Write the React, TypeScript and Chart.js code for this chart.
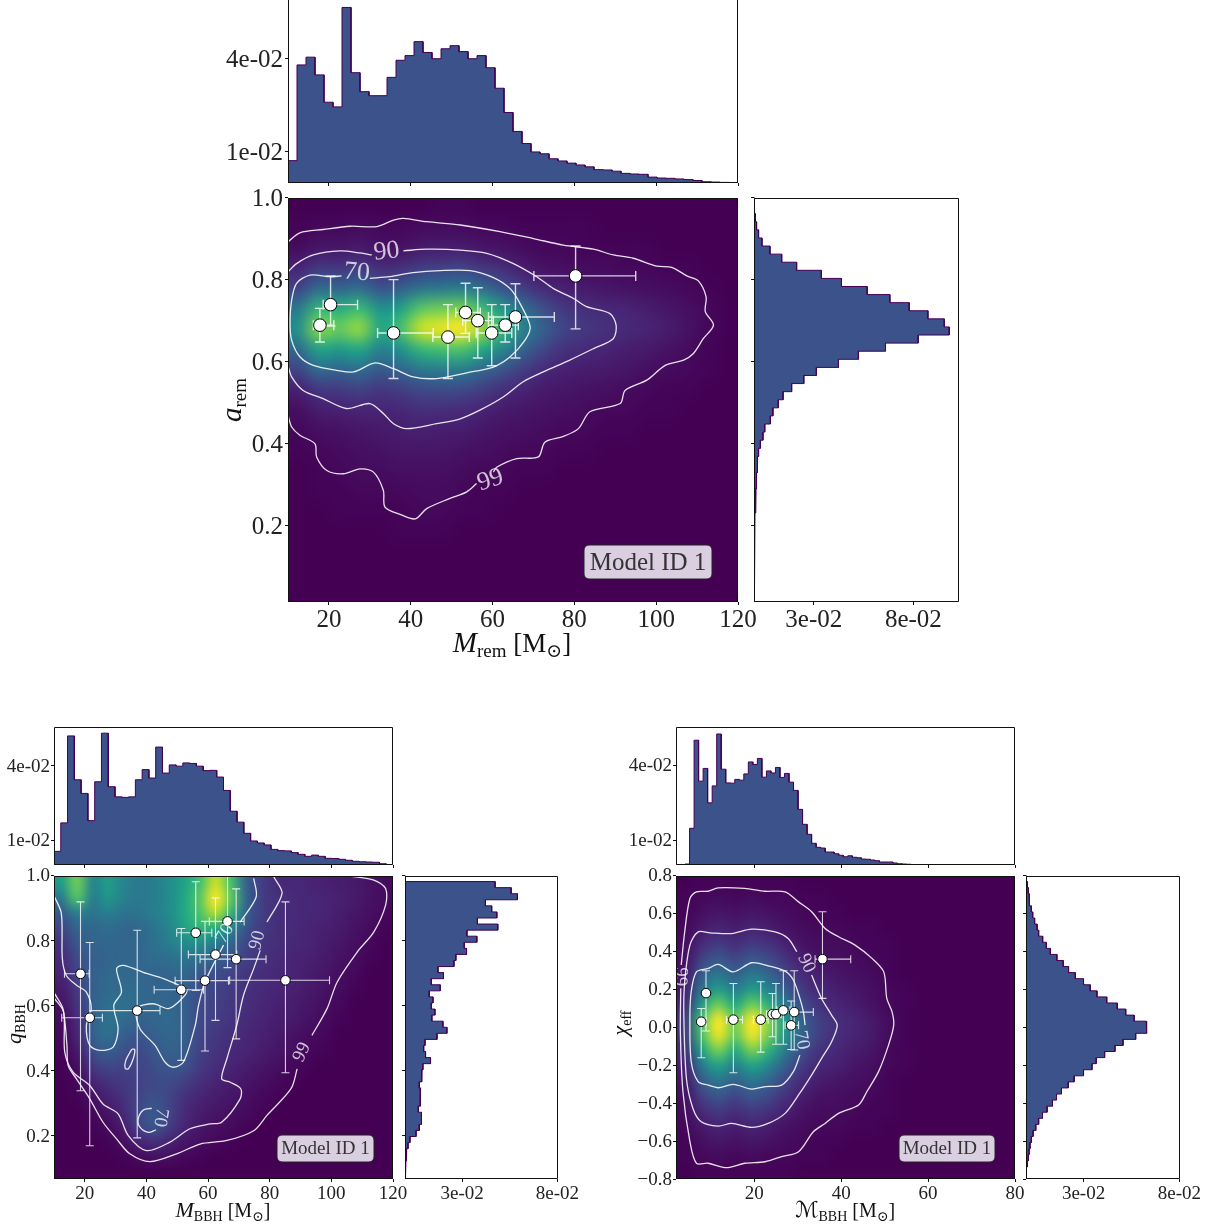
import React, { useEffect, useRef } from "react";
import { Chart, registerables } from "chart.js";

Chart.register(...registerables);

// ---------- histogram values ----------
const aTopHist = [.0072,.0380,.0405,.0348,.0260,.0245,.0565,.0355,.0294,.0281,.0281,.0340,.0395,.0410,.0455,.0420,.0400,.0432,.0442,.0423,.0400,.0410,.0371,.0305,.0227,.0166,.0127,.0100,.0094,.0078,.0071,.0064,.0058,.0052,.0043,.0042,.0038,.0031,.0029,.0028,.0019,.0016,.0015,.0013,.0011,.0008,.0004,.0003,.0002,.0001];
const aSideHist = [.0001,.0003,.0007,.0013,.0023,.0040,.0080,.0139,.0214,.0338,.0439,.0568,.0682,.0779,.0873,.0955,.0980,.0824,.0660,.0524,.0424,.0313,.0250,.0189,.0146,.0122,.0095,.0082,.0054,.0045,.0032,.0023,.0018,.0017,.0013,.0012,.0010,.0008,.0007,.0005,.0005,.0003,.0003,.0002,.0002,.0001,.0001,.0001,.0001,.0001];
const bTopHist = [.0055,.0170,.0521,.0344,.0289,.0179,.0336,.0532,.0316,.0275,.0273,.0275,.0344,.0385,.0351,.0476,.0371,.0404,.0399,.0412,.0410,.0399,.0381,.0382,.0355,.0301,.0217,.0173,.0128,.0097,.0089,.0081,.0063,.0058,.0057,.0050,.0043,.0035,.0040,.0035,.0027,.0026,.0023,.0019,.0015,.0013,.0012,.0011,.0005,0];
const bSideHist = [0,.0473,.0557,.0590,.0422,.0455,.0482,.0380,.0487,.0325,.0377,.0311,.0323,.0267,.0257,.0173,.0202,.0138,.0185,.0127,.0147,.0138,.0157,.0141,.0199,.0220,.0168,.0105,.0098,.0108,.0134,.0094,.0089,.0087,.0075,.0082,.0080,.0079,.0070,.0086,.0087,.0075,.0058,.0026,.0016,.0009,.0007,.0005,.0003,.0002];
const cTopHist = [0,0,.0004,.0147,.0500,.0336,.0387,.0249,.0317,.0525,.0384,.0329,.0328,.0343,.0340,.0365,.0413,.0403,.0427,.0352,.0377,.0369,.0391,.0351,.0367,.0332,.0299,.0223,.0163,.0123,.0087,.0071,.0068,.0052,.0052,.0045,.0039,.0033,.0037,.0031,.0029,.0024,.0023,.0020,.0017,.0012,.0012,.0012,.0008,.0005,.0004,.0003,.0002,.0002,.0002,.0001,.0001,.0001,.0001,.0001,.0001,.0001,.0001,.0001,.0001,.0001,.0001,0,0,0,0,0,0,0,0];
const cSideHist = [.0002,.0007,.0012,.0016,.0019,.0028,.0035,.0045,.0058,.0066,.0087,.0106,.0127,.0161,.0194,.0222,.0257,.0300,.0335,.0370,.0421,.0476,.0520,.0564,.0627,.0630,.0572,.0506,.0464,.0410,.0366,.0344,.0300,.0251,.0220,.0185,.0159,.0138,.0110,.0086,.0066,.0051,.0037,.0028,.0021,.0016,.0012,.0007,.0003,.0002];

// ---------- density grids (top row first, percent of the colour range) ----------
const aDensity = [
[0,0,0,0,0,0,0,1,1,0,0,0,0,0,0,0,0,0,0,0,0,0],
[1,2,2,3,2,2,3,3,3,2,2,1,1,1,1,0,0,0,0,0,0,0],
[3,6,6,7,5,5,7,8,8,6,5,3,2,2,1,1,1,1,0,0,0,0],
[10,17,16,18,13,14,18,19,20,16,13,8,5,4,3,3,2,2,1,1,0,0],
[20,35,32,36,26,30,38,40,42,36,26,18,12,9,7,6,5,4,3,2,1,0],
[40,66,62,68,50,56,74,78,80,68,52,36,24,16,13,11,10,8,6,4,2,0],
[50,82,76,84,60,70,92,97,100,85,65,45,30,20,16,14,12,10,8,5,2,0],
[34,58,54,60,44,50,66,70,72,60,46,32,21,14,12,10,8,7,5,3,1,0],
[20,35,32,36,28,32,40,42,42,34,26,18,12,9,8,7,6,4,3,2,1,0],
[9,16,17,19,16,18,22,23,22,18,13,10,7,6,5,4,3,2,1,1,0,0],
[4,8,9,10,10,11,13,13,12,10,7,6,5,4,3,2,2,1,1,0,0,0],
[2,4,5,6,7,8,9,8,8,6,5,4,3,2,2,1,1,0,0,0,0,0],
[1,2,3,4,5,6,6,6,5,4,3,2,2,1,1,0,0,0,0,0,0,0],
[0,1,2,3,3,4,4,4,3,2,2,1,1,0,0,0,0,0,0,0,0,0],
[0,1,1,2,2,2,3,3,2,1,1,0,0,0,0,0,0,0,0,0,0,0],
[0,0,1,1,1,1,2,2,1,1,0,0,0,0,0,0,0,0,0,0,0,0],
[0,0,0,0,0,1,1,1,0,0,0,0,0,0,0,0,0,0,0,0,0,0],
[0,0,0,0,0,0,0,0,0,0,0,0,0,0,0,0,0,0,0,0,0,0],
[0,0,0,0,0,0,0,0,0,0,0,0,0,0,0,0,0,0,0,0,0,0],
[0,0,0,0,0,0,0,0,0,0,0,0,0,0,0,0,0,0,0,0,0,0],
];
const bDensity = [
[55,78,45,55,45,40,42,48,58,70,92,70,30,18,12,11,10,9,8,7,5,3],
[40,72,42,52,43,40,42,48,60,75,100,75,32,18,14,12,11,10,9,7,5,3],
[28,42,38,42,38,38,42,48,60,72,88,65,30,18,13,12,11,10,8,6,4,2],
[20,32,33,35,33,33,38,45,57,64,60,45,25,17,13,12,10,9,7,5,3,1],
[15,27,32,33,33,33,37,42,47,48,40,32,20,15,13,11,10,8,6,4,2,0],
[12,22,30,32,33,33,35,36,38,36,30,25,18,14,12,10,9,7,5,3,1,0],
[10,20,30,34,34,33,32,32,33,27,23,20,15,13,11,10,8,6,4,2,0,0],
[7,17,30,34,35,34,32,32,30,23,20,17,14,12,10,9,7,5,3,1,0,0],
[5,15,30,36,37,34,33,33,30,22,19,16,13,11,9,8,6,4,2,0,0,0],
[3,12,30,38,35,31,33,34,30,22,18,15,12,10,8,7,5,3,1,0,0,0],
[2,10,30,37,30,27,30,33,30,20,16,13,11,9,7,5,3,2,0,0,0,0],
[1,7,24,30,25,22,27,31,28,19,15,12,10,8,6,4,2,1,0,0,0,0],
[0,4,17,22,20,20,24,27,25,17,13,10,8,6,4,2,1,0,0,0,0,0],
[0,2,10,15,17,19,22,23,19,14,10,8,6,4,2,1,0,0,0,0,0,0],
[0,1,5,10,14,20,24,20,14,10,8,6,4,2,1,0,0,0,0,0,0,0],
[0,0,2,6,12,22,27,20,12,8,6,4,3,1,0,0,0,0,0,0,0,0],
[0,0,1,3,8,20,27,18,10,6,4,3,1,0,0,0,0,0,0,0,0,0],
[0,0,0,1,4,10,14,10,6,4,2,1,0,0,0,0,0,0,0,0,0,0],
[0,0,0,0,1,3,5,4,2,1,0,0,0,0,0,0,0,0,0,0,0,0],
[0,0,0,0,0,0,0,0,0,0,0,0,0,0,0,0,0,0,0,0,0,0],
];
const cDensity = [
[0,1,1,1,1,1,1,0,0,0,0,0,0,0,0,0,0,0,0,0],
[1,2,3,2,3,2,2,1,1,0,0,0,0,0,0,0,0,0,0,0],
[1,4,6,5,6,5,3,2,1,1,0,0,0,0,0,0,0,0,0,0],
[2,7,10,8,10,8,5,3,2,2,1,1,0,0,0,0,0,0,0,0],
[3,12,17,13,17,14,9,5,3,3,2,1,1,0,0,0,0,0,0,0],
[4,19,27,21,27,22,14,8,5,4,3,2,1,0,0,0,0,0,0,0],
[6,28,40,30,40,32,20,12,8,6,4,3,1,0,0,0,0,0,0,0],
[8,38,55,42,55,44,28,16,11,8,6,4,2,1,0,0,0,0,0,0],
[11,54,78,60,78,62,39,23,14,10,8,5,2,1,0,0,0,0,0,0],
[15,70,100,76,100,80,50,30,18,13,10,7,3,1,0,0,0,0,0,0],
[15,70,98,76,98,78,50,30,18,13,10,7,3,1,0,0,0,0,0,0],
[12,56,80,61,80,64,40,24,14,11,8,6,2,1,0,0,0,0,0,0],
[9,40,58,44,58,46,29,17,11,9,6,4,2,1,0,0,0,0,0,0],
[6,28,40,31,40,32,20,12,8,6,4,3,1,0,0,0,0,0,0,0],
[4,19,27,21,27,22,14,8,5,4,3,2,1,0,0,0,0,0,0,0],
[3,12,17,13,17,14,9,5,3,3,2,1,1,0,0,0,0,0,0,0],
[2,7,10,8,10,8,5,3,2,2,1,1,0,0,0,0,0,0,0,0],
[1,4,6,5,6,5,3,2,1,1,0,0,0,0,0,0,0,0,0,0],
[1,2,3,2,3,2,2,1,1,0,0,0,0,0,0,0,0,0,0,0],
[0,1,1,1,1,1,1,0,0,0,0,0,0,0,0,0,0,0,0,0],
];

// ---------- contour segments (x, y) ----------
const a99upper = [[10,.892],[12.9,.914],[18.6,.922],[25.2,.930],[31.7,.929],[35.8,.945],[38.2,.949],[43.9,.941],[52.1,.933],[61.8,.917],[70,.900],[77.3,.884],[84.7,.874],[89.5,.860],[94.4,.852],[100.1,.833],[103.8,.830],[107.5,.809],[110.3,.797],[112.2,.758],[112,.722],[114,.689],[111.5,.656],[109.1,.620],[106.7,.604],[102.2,.591],[97.7,.555],[92.4,.530],[91.2,.498],[83.8,.478],[81,.437],[77.3,.418],[72.8,.404],[71.2,.368],[65.9,.364],[61,.343],[60.2,.331]];
const a99lower = [[56.1,.303],[53.7,.283],[49.6,.267],[43.9,.242],[41.1,.217],[37.4,.228],[33.7,.246],[33.3,.287],[30.9,.331],[27.6,.339],[23.5,.327],[19.5,.335],[17,.368],[16.6,.400],[12.9,.421],[10.9,.441],[10,.470]];
const a90upper = [[10,.819],[12.1,.839],[16.2,.860],[22.7,.870],[27.6,.865],[30.5,.860]];
const a90lower = [[38.2,.870],[43.9,.874],[52.1,.872],[58.6,.864],[65.1,.839],[70.8,.807],[74.9,.778],[79.8,.754],[83,.734],[88.7,.717],[90.2,.689],[89.5,.656],[84.7,.632],[78.9,.604],[72.4,.575],[67.5,.551],[62.6,.514],[56.9,.482],[52.1,.461],[46.3,.449],[39,.437],[35.8,.449],[33.3,.474],[30,.498],[24.3,.486],[18.6,.510],[13.7,.530],[10.9,.563],[10,.591]];
const a70upper = [[23.1,.809],[20.3,.807],[15.4,.811],[12.1,.791],[10.9,.750],[10.5,.693],[10.9,.652],[12.9,.612],[16.2,.591],[21.9,.579],[26,.575],[31.3,.597],[35.8,.583],[40.6,.563],[46.3,.559],[53.7,.573],[60.2,.587],[64.3,.612],[67.9,.652],[69.2,.685],[66.7,.742],[64.3,.778],[60.2,.805],[54.5,.822],[47.2,.822],[40.6,.817],[34.9,.807],[30,.803]];
const aContours = [a99upper, a99lower, a90upper, a90lower, a70upper];

const b99first = [[10.2,.637],[12.9,.591],[14.2,.478],[14.6,.416],[17.3,.375],[21.6,.314],[25.9,.242],[30.3,.191],[34.6,.145],[41.1,.121],[49.8,.145],[57.4,.175],[66.1,.186],[74.8,.216],[79.1,.263],[86.9,.345],[88.9,.406]];
const b99second = [[93.7,.509],[98.6,.591],[101.9,.673],[108.4,.765],[113.8,.827],[117.6,.909],[117.6,.960],[113.8,.986],[106.2,.998]];
const b90first = [[10.2,.622],[13.1,.581],[13.5,.457],[16.2,.396],[21.6,.355],[25.9,.298],[30.8,.268],[34.1,.201],[40,.155],[47.6,.181],[54.1,.222],[60.7,.237],[64.4,.242],[70.4,.314],[70.6,.345],[67.2,.365],[64.4,.375],[66.1,.437],[69.3,.540],[71.5,.632],[74.8,.714],[76.9,.770]];
const b90second = [[79.1,.857],[84,.945],[81.3,.996]];
const b70first = [[10.2,.934],[12.4,.883],[12.7,.745],[14,.693],[17.3,.663],[20.5,.642],[22.1,.591],[20.5,.539],[21.6,.478],[24.9,.463],[29.2,.473],[30.8,.529],[29.4,.601],[31.9,.642],[30.3,.714],[32.5,.724],[40,.699],[45.5,.683],[53.1,.647],[50.9,.616],[47.1,.591],[42.2,.606],[36.8,.591],[37.9,.529],[42.8,.478],[46,.427],[48.7,.411],[52,.427],[55.8,.539],[56.9,.601],[59,.673],[65,.786]];
const b70second = [[70.4,.857],[75.6,.934],[74.8,.991]];
const b70oval = [[35.2,.466],[33.3,.432],[33.1,.408],[34.1,.406],[35.7,.437],[36.2,.466],[35.2,.466]];
const b70hook = [[41.7,.285],[39,.280],[37.3,.252],[37.9,.227],[40.6,.211],[43.1,.219]];
const bContours = [b99first, b99second, b90first, b90second, b70first, b70second, b70oval, b70hook];

const c99ring = [[3.2,.328],[4,.503],[5.2,.679],[6.7,.714],[9.4,.717],[11.7,.735],[17.8,.732],[22.5,.717],[27.1,.714],[30.2,.661],[33.2,.609],[36.3,.521],[39.4,.477],[43.2,.433],[47.1,.363],[49.8,.292],[50.5,.152],[51.7,.082],[52.1,.011],[50.9,-.094],[48.6,-.234],[45.9,-.340],[44,-.410],[39.4,-.454],[36.3,-.507],[33.6,-.551],[30.2,-.656],[26.3,-.682],[22.5,-.709],[17.8,-.717],[13.6,-.740],[9.4,-.717],[6.7,-.717],[5.2,-.603],[3.6,-.340],[3,-.024],[3.1,.205]];
const c90ring = [[33.2,.275],[35.5,.152],[37.8,.064],[39.1,.011],[37.8,-.076],[35.5,-.164],[33.2,-.252],[30.2,-.357],[27.1,-.454],[23.2,-.507],[19.4,-.528],[14.8,-.507],[11.7,-.521],[7.8,-.498],[5.9,-.428],[4.4,-.270],[3.8,.064],[4,.240],[5.2,.433],[7.1,.503],[9.8,.498],[14.8,.494],[19.4,.517],[24.8,.503],[27.8,.468],[29.8,.398]];
const c70ring = [[30.5,-.147],[29,-.234],[26.3,-.305],[22.5,-.313],[19.4,-.326],[15.2,-.301],[11.7,-.319],[9.4,-.305],[7.1,-.287],[5.5,-.182],[5.2,.047],[5.5,.187],[6.7,.292],[9.4,.310],[11.7,.331],[15.2,.292],[19.4,.340],[23.2,.324],[27.1,.296],[29,.249],[30.5,.152],[31.3,.082],[31.7,.011]];
const cContours = [c99ring, c90ring, c70ring];

// ---------- contour labels: text, x, y, rotation in degrees ----------
const aContourLabels = [["90",34.1,.868,-6],["70",26.8,.817,5],["99",59.5,.311,-18]];
const bContourLabels = [["70",44.6,.257,100],["70",65.5,.822,-60],["90",76,.801,-75],["99",90.5,.457,-65]];
const cContourLabels = [["99",3,.266,92],["90",32,.336,65],["70",30.9,-.068,80]];

// ---------- observations: x, y, xLow, xHigh, yLow, yHigh ----------
const aEvents = [[17.8,.689,16.2,21.2,.648,.730],[20.4,.739,18.6,27,.687,.809],[35.8,.670,31.9,45.5,.559,.800],[49.1,.660,45.4,54.3,.559,.739],[53.4,.720,51,57,.669,.791],[56.4,.700,52.7,60.2,.609,.780],[59.8,.670,56,64.7,.590,.739],[63.1,.689,59,66.3,.648,.739],[65.6,.709,59,75.1,.609,.790],[80.3,.809,70.1,95,.680,.882]];
const bEvents = [[18.6,.698,13.4,21.4,.339,.919],[21.6,.563,12.5,25.7,.170,.794],[37,.585,21.6,44.4,.194,.832],[51.3,.649,42.5,58.5,.432,.837],[56,.824,49.8,61.2,.647,.981],[59,.677,49.3,66.6,.461,.859],[62.4,.757,53.6,69.3,.555,.931],[66.3,.859,60.4,71.7,.717,1.0],[69.1,.743,57.4,78.8,.498,.959],[85.1,.678,67,99.4,.394,.919]];
const cEvents = [[7.8,.029,7.1,9,-.161,.099],[8.9,.180,8.4,9.4,-.020,.298],[15.2,.040,13.6,17.3,-.240,.231],[21.5,.040,19.8,23.2,-.131,.240],[24.2,.069,22.8,25.9,-.050,.178],[25,.069,23.2,26.2,-.090,.231],[26.7,.089,25.2,28.2,-.090,.298],[29.2,.080,26.2,33.6,-.120,.298],[28.5,.010,27.1,30.2,-.117,.138],[35.7,.359,34,42.2,.152,.609]];

// ---------- tick values and labels ----------
const massTicks = [20,40,60,80,100,120];
const chirpTicks = [20,40,60,80];
const unitTicks = [.2,.4,.6,.8,1.0];
const spinTicks = [-.8,-.6,-.4,-.2,0,.2,.4,.6,.8];
const histCountTicks = [.01,.04];
const histCountLabels = ["1e-02","4e-02"];
const histSideTicks = [.03,.08];
const histSideLabels = ["3e-02","8e-02"];
const MODEL_LABEL = "Model ID 1";

// ---------- drawing helpers ----------
const SERIF = '"Liberation Serif", "DejaVu Serif", "DejaVu Sans", serif';
const VIRIDIS = [[68,1,84],[72,36,117],[65,68,135],[53,95,141],[42,120,142],[33,145,140],[34,168,132],[68,191,112],[122,209,81],[189,223,38],[253,231,37]];

function viridis(t: number) {
  const p = Math.max(0, Math.min(1, t)) * 10;
  const i = Math.min(9, Math.floor(p));
  const f = p - i;
  return VIRIDIS[i].map((c, k) => c + (VIRIDIS[i + 1][k] - c) * f);
}

function horizontalSteps(values: number[], lo: number, hi: number) {
  const w = (hi - lo) / values.length;
  const pts: any[] = [{ x: lo, y: 0 }];
  values.forEach((v, i) => {
    pts.push({ x: lo + i * w, y: v }, { x: lo + (i + 1) * w, y: v });
  });
  pts.push({ x: hi, y: 0 });
  return pts;
}

function verticalSteps(values: number[], top: number, bottom: number) {
  const h = (top - bottom) / values.length;
  const pts: any[] = [{ x: 0, y: top }];
  values.forEach((v, i) => {
    pts.push({ x: v, y: top - i * h }, { x: v, y: top - (i + 1) * h });
  });
  pts.push({ x: 0, y: bottom });
  return pts;
}

function drawRuns(ctx: any, runs: any[], cx: number, cy: number, rot = 0) {
  ctx.save();
  ctx.translate(cx, cy);
  ctx.rotate(rot);
  ctx.fillStyle = "#111";
  ctx.textBaseline = "alphabetic";
  ctx.textAlign = "left";
  const fontOf = (r: any) => `${r.italic ? "italic " : ""}${r.size}px ${SERIF}`;
  let total = 0;
  runs.forEach((r) => { ctx.font = fontOf(r); total += ctx.measureText(r.t).width; });
  let x = -total / 2;
  runs.forEach((r) => {
    ctx.font = fontOf(r);
    ctx.fillText(r.t, x, r.dy || 0);
    x += ctx.measureText(r.t).width;
  });
  ctx.restore();
}

function panelPlugin(cfg: any) {
  return {
    id: "panelDecor",
    beforeDatasetsDraw(chart: any) {
      if (!cfg.density) return;
      const { ctx, scales, chartArea } = chart;
      const rows = cfg.density.length, cols = cfg.density[0].length;
      const off = document.createElement("canvas");
      off.width = cols; off.height = rows;
      const o = off.getContext("2d")!;
      const img = o.createImageData(cols, rows);
      cfg.density.forEach((row: number[], j: number) => row.forEach((v, i) => {
        const c = viridis(v / 100);
        const k = (j * cols + i) * 4;
        img.data[k] = c[0]; img.data[k + 1] = c[1]; img.data[k + 2] = c[2]; img.data[k + 3] = 255;
      }));
      o.putImageData(img, 0, 0);
      const x0 = scales.x.getPixelForValue(scales.x.min);
      const x1 = scales.x.getPixelForValue(scales.x.max);
      const y0 = scales.y.getPixelForValue(scales.y.max);
      const y1 = scales.y.getPixelForValue(scales.y.min);
      ctx.save();
      ctx.beginPath();
      ctx.rect(chartArea.left, chartArea.top, chartArea.width, chartArea.height);
      ctx.clip();
      ctx.imageSmoothingEnabled = true;
      ctx.imageSmoothingQuality = "high";
      ctx.drawImage(off, x0, y0, x1 - x0, y1 - y0);
      ctx.restore();
    },
    beforeDatasetDraw(chart: any, args: any) {
      if (!cfg.events || args.index !== 0) return;
      const { ctx, scales } = chart;
      ctx.save();
      ctx.strokeStyle = "rgba(255,255,255,0.8)";
      ctx.lineWidth = cfg.errorWidth;
      const cap = cfg.cap;
      ctx.beginPath();
      cfg.events.forEach((e: number[]) => {
        const px = scales.x.getPixelForValue(e[0]);
        const py = scales.y.getPixelForValue(e[1]);
        const xl = scales.x.getPixelForValue(e[2]);
        const xh = scales.x.getPixelForValue(e[3]);
        const yl = scales.y.getPixelForValue(e[4]);
        const yh = scales.y.getPixelForValue(e[5]);
        ctx.moveTo(xl, py); ctx.lineTo(xh, py);
        ctx.moveTo(xl, py - cap); ctx.lineTo(xl, py + cap);
        ctx.moveTo(xh, py - cap); ctx.lineTo(xh, py + cap);
        ctx.moveTo(px, yl); ctx.lineTo(px, yh);
        ctx.moveTo(px - cap, yl); ctx.lineTo(px + cap, yl);
        ctx.moveTo(px - cap, yh); ctx.lineTo(px + cap, yh);
      });
      ctx.stroke();
      ctx.restore();
    },
    afterDraw(chart: any) {
      const { ctx, chartArea: a, scales } = chart;
      ctx.save();
      (cfg.contourLabels || []).forEach((l: any[]) => {
        ctx.save();
        ctx.translate(scales.x.getPixelForValue(l[1]), scales.y.getPixelForValue(l[2]));
        ctx.rotate((l[3] * Math.PI) / 180);
        ctx.font = `${cfg.contourFont}px ${SERIF}`;
        ctx.fillStyle = "rgba(255,255,255,0.75)";
        ctx.textAlign = "center";
        ctx.textBaseline = "middle";
        ctx.fillText(l[0], 0, 0);
        ctx.restore();
      });
      if (cfg.box) {
        const b = cfg.box;
        const x = a.right - b.right - b.w, y = a.bottom - b.bottom - b.h;
        ctx.beginPath();
        ctx.roundRect(x, y, b.w, b.h, 5);
        ctx.fillStyle = "#d9cfe1";
        ctx.fill();
        ctx.strokeStyle = "#222";
        ctx.lineWidth = 1;
        ctx.stroke();
        ctx.fillStyle = "#333";
        ctx.font = `${b.font}px ${SERIF}`;
        ctx.textAlign = "center";
        ctx.textBaseline = "middle";
        ctx.fillText(MODEL_LABEL, x + b.w / 2, y + b.h / 2 + 1);
      }
      const l = Math.round(a.left) + 0.5, r = Math.round(a.right) - 0.5;
      const t = Math.round(a.top) + 0.5, bt = Math.round(a.bottom) - 0.5;
      ctx.strokeStyle = "#111";
      ctx.lineWidth = 1;
      ctx.beginPath();
      if (cfg.openTop) {
        ctx.moveTo(l, a.top); ctx.lineTo(l, bt); ctx.lineTo(r, bt); ctx.lineTo(r, a.top);
      } else {
        ctx.rect(l, t, r - l, bt - t);
      }
      ctx.stroke();
      if (cfg.xTitle) drawRuns(ctx, cfg.xTitle.runs, cfg.xTitle.x - cfg.ox, cfg.xTitle.y - cfg.oy);
      if (cfg.yTitle) drawRuns(ctx, cfg.yTitle.runs, cfg.yTitle.x - cfg.ox, cfg.yTitle.y - cfg.oy, -Math.PI / 2);
      ctx.restore();
    },
  };
}

const M_L = 70, M_T = 30, M_R = 40, M_B = 70;

function makeChart(canvas: HTMLCanvasElement, cfg: any, padTop: number) {
  const fixedTicks = (vals: number[]) => (s: any) => { s.ticks = vals.map((value) => ({ value })); };
  const axis = (ax: any, isX: boolean) => ({
    type: "linear",
    min: ax.min,
    max: ax.max,
    afterBuildTicks: fixedTicks(ax.ticks),
    afterFit: (s: any) => { if (isX) s.height = M_B; else s.width = M_L; },
    border: { display: false },
    grid: { display: true, drawOnChartArea: false, drawTicks: true, tickLength: 3, tickColor: "#111", tickWidth: 1 },
    ticks: {
      display: !!ax.format,
      autoSkip: false,
      maxRotation: 0,
      minRotation: 0,
      padding: isX ? cfg.tickPadX : cfg.tickPadY,
      labelOffset: isX ? 0 : cfg.yLabelShift,
      color: "#222",
      font: { family: SERIF, size: cfg.tickFont },
      callback: (v: number) => (ax.format ? ax.format(v) : ""),
    },
  });
  return new Chart(canvas, {
    type: "scatter",
    data: { datasets: cfg.datasets },
    options: {
      responsive: false,
      animation: false,
      devicePixelRatio: 1,
      layout: { autoPadding: false, padding: { top: padTop, right: M_R, left: 0, bottom: 0 } },
      plugins: { legend: { display: false }, tooltip: { enabled: false } },
      scales: { x: axis(cfg.xAxis, true), y: axis(cfg.yAxis, false) },
    } as any,
    plugins: [panelPlugin(cfg)],
  } as any);
}

const lineDatasets = (segments: number[][][]) =>
  segments.map((seg) => ({
    type: "scatter",
    data: seg.map(([x, y]) => ({ x, y })),
    showLine: true,
    tension: 0.3,
    borderColor: "rgba(255,255,255,0.88)",
    borderWidth: 1.3,
    pointRadius: 0,
    fill: false,
  }));

const histDataset = (points: any[]) => ({
  type: "scatter",
  data: points,
  showLine: true,
  tension: 0,
  stepped: false,
  fill: "shape",
  backgroundColor: "#3b528b",
  borderColor: "#440154",
  borderWidth: 1,
  pointRadius: 0,
});

const eventDataset = (events: number[][], radius: number) => ({
  type: "scatter",
  data: events.map((e) => ({ x: e[0], y: e[1] })),
  showLine: false,
  pointRadius: radius,
  pointBackgroundColor: "#fff",
  pointBorderColor: "#000",
  pointBorderWidth: 1,
});

const fmt1 = (v: number) => (v < 0 ? "\u2212" : "") + Math.abs(v).toFixed(1);
const fmtInt = (v: number) => String(v);
const fmtCount = (v: number) => histCountLabels[histCountTicks.indexOf(v)];
const fmtSide = (v: number) => histSideLabels[histSideTicks.indexOf(v)];

function buildPanels() {
  const panels: any[] = [];
  const add = (rect: number[], cfg: any) => {
    panels.push({ ...cfg, rect });
  };
  const group = (g: any) => {
    const { heat, top, side, font, tickPadX, tickPadY, yLabelShift, xRange, yRange, xTicks, yTicks, yFmt } = g;
    add(top, {
      tickFont: font, tickPadX, tickPadY, yLabelShift, openTop: g.openTop,
      xAxis: { min: xRange[0], max: xRange[1], ticks: xTicks },
      yAxis: { min: 0, max: g.topMax, ticks: histCountTicks, format: fmtCount },
      datasets: [histDataset(horizontalSteps(g.topHist, xRange[0], xRange[1]))],
    });
    add(side, {
      tickFont: font, tickPadX, tickPadY, yLabelShift,
      xAxis: { min: 0, max: g.sideMax, ticks: histSideTicks, format: fmtSide },
      yAxis: { min: yRange[0], max: yRange[1], ticks: yTicks },
      datasets: [histDataset(verticalSteps(g.sideHist, yRange[1], yRange[0]))],
    });
    add(heat, {
      tickFont: font, tickPadX, tickPadY, yLabelShift,
      density: g.density, events: g.events, cap: g.cap, errorWidth: g.errorWidth,
      contourLabels: g.contourLabels, contourFont: g.contourFont, box: g.box,
      xTitle: g.xTitle, yTitle: g.yTitle,
      xAxis: { min: xRange[0], max: xRange[1], ticks: xTicks, format: fmtInt },
      yAxis: { min: yRange[0], max: yRange[1], ticks: yTicks, format: yFmt },
      datasets: [eventDataset(g.events, g.radius), ...lineDatasets(g.contours)],
    });
  };
  const sun = (size: number) => [
    { t: " [M", size },
    { t: "\u2299", size: size * 0.7, dy: size * 0.2 },
    { t: "]", size },
  ];
  group({
    heat: [288, 197.5, 738, 602], top: [288, 0, 738, 183], side: [754, 197.5, 959, 602], openTop: true,
    font: 25, tickPadX: 0, tickPadY: 2, yLabelShift: 2, xRange: [10, 120], yRange: [0.0146, 1], xTicks: massTicks, yTicks: unitTicks, yFmt: fmt1,
    topMax: 0.0589, sideMax: 0.1029, topHist: aTopHist, sideHist: aSideHist,
    density: aDensity, contours: aContours, contourLabels: aContourLabels, contourFont: 26,
    events: aEvents, cap: 5, errorWidth: 1.4, radius: 6.3,
    box: { right: 26, bottom: 23, w: 128, h: 34, font: 25 },
    xTitle: { x: 512, y: 652, runs: [{ t: "M", italic: true, size: 29 }, { t: "rem", size: 19, dy: 5 }, ...sun(27)] },
    yTitle: { x: 241, y: 400, runs: [{ t: "a", italic: true, size: 29 }, { t: "rem", size: 19, dy: 5 }] },
  });
  group({
    heat: [54.5, 875.5, 392.5, 1179], top: [54.5, 726.5, 392.5, 864.5], side: [405, 875.5, 558, 1179],
    font: 19, tickPadX: 1, tickPadY: 1, yLabelShift: 1, xRange: [10, 120], yRange: [0.0677, 1], xTicks: massTicks, yTicks: unitTicks, yFmt: fmt1,
    topMax: 0.0559, sideMax: 0.0803, topHist: bTopHist, sideHist: bSideHist,
    density: bDensity, contours: bContours, contourLabels: bContourLabels, contourFont: 19,
    events: bEvents, cap: 4, errorWidth: 1.1, radius: 4.8,
    box: { right: 19, bottom: 17, w: 97, h: 27, font: 19 },
    xTitle: { x: 223, y: 1217, runs: [{ t: "M", italic: true, size: 22 }, { t: "BBH", size: 14, dy: 4 }, ...sun(20)] },
    yTitle: { x: 21, y: 1024, runs: [{ t: "q", italic: true, size: 22 }, { t: "BBH", size: 14, dy: 4 }] },
  });
  group({
    heat: [676.5, 875.5, 1014.5, 1179], top: [676.5, 726.5, 1014.5, 864.5], side: [1026, 875.5, 1179.5, 1179],
    font: 19, tickPadX: 1, tickPadY: 1, yLabelShift: 1, xRange: [2, 80], yRange: [-0.8, 0.8], xTicks: chirpTicks, yTicks: spinTicks, yFmt: fmt1,
    topMax: 0.0555, sideMax: 0.0803, topHist: cTopHist, sideHist: cSideHist,
    density: cDensity, contours: cContours, contourLabels: cContourLabels, contourFont: 19,
    events: cEvents, cap: 4, errorWidth: 1.1, radius: 4.8,
    box: { right: 20, bottom: 17, w: 96, h: 27, font: 19 },
    xTitle: { x: 845, y: 1217, runs: [{ t: "\u2133", size: 22 }, { t: "BBH", size: 14, dy: 4 }, ...sun(20)] },
    yTitle: { x: 627, y: 1023, runs: [{ t: "\u03C7", italic: true, size: 22 }, { t: "eff", size: 14, dy: 4 }] },
  });
  return panels;
}

export default function App() {
  const hostRef = useRef<HTMLDivElement>(null);
  useEffect(() => {
    const host = hostRef.current!;
    const charts: any[] = [];
    const canvases: HTMLCanvasElement[] = [];
    buildPanels().forEach((p) => {
      const [l, t, r, b] = p.rect;
      const ox = Math.floor(l - M_L);
      const oy = Math.floor(t - M_T);
      const canvas = document.createElement("canvas");
      const w = Math.ceil(r - ox + M_R);
      const h = Math.ceil(b - oy + M_B);
      canvas.width = w;
      canvas.height = h;
      p.ox = ox; p.oy = oy;
      canvas.style.cssText = `position:absolute;left:${ox}px;top:${oy}px;width:${w}px;height:${h}px;`;
      host.appendChild(canvas);
      canvases.push(canvas);
      charts.push(makeChart(canvas, p, t - oy));
    });
    return () => {
      charts.forEach((c) => c.destroy());
      canvases.forEach((c) => c.remove());
    };
  }, []);
  return (
    <div
      ref={hostRef}
      style={{ position: "absolute", left: 0, top: 0, width: 1220, height: 1226, overflow: "hidden", background: "#fff" }}
    />
  );
}
